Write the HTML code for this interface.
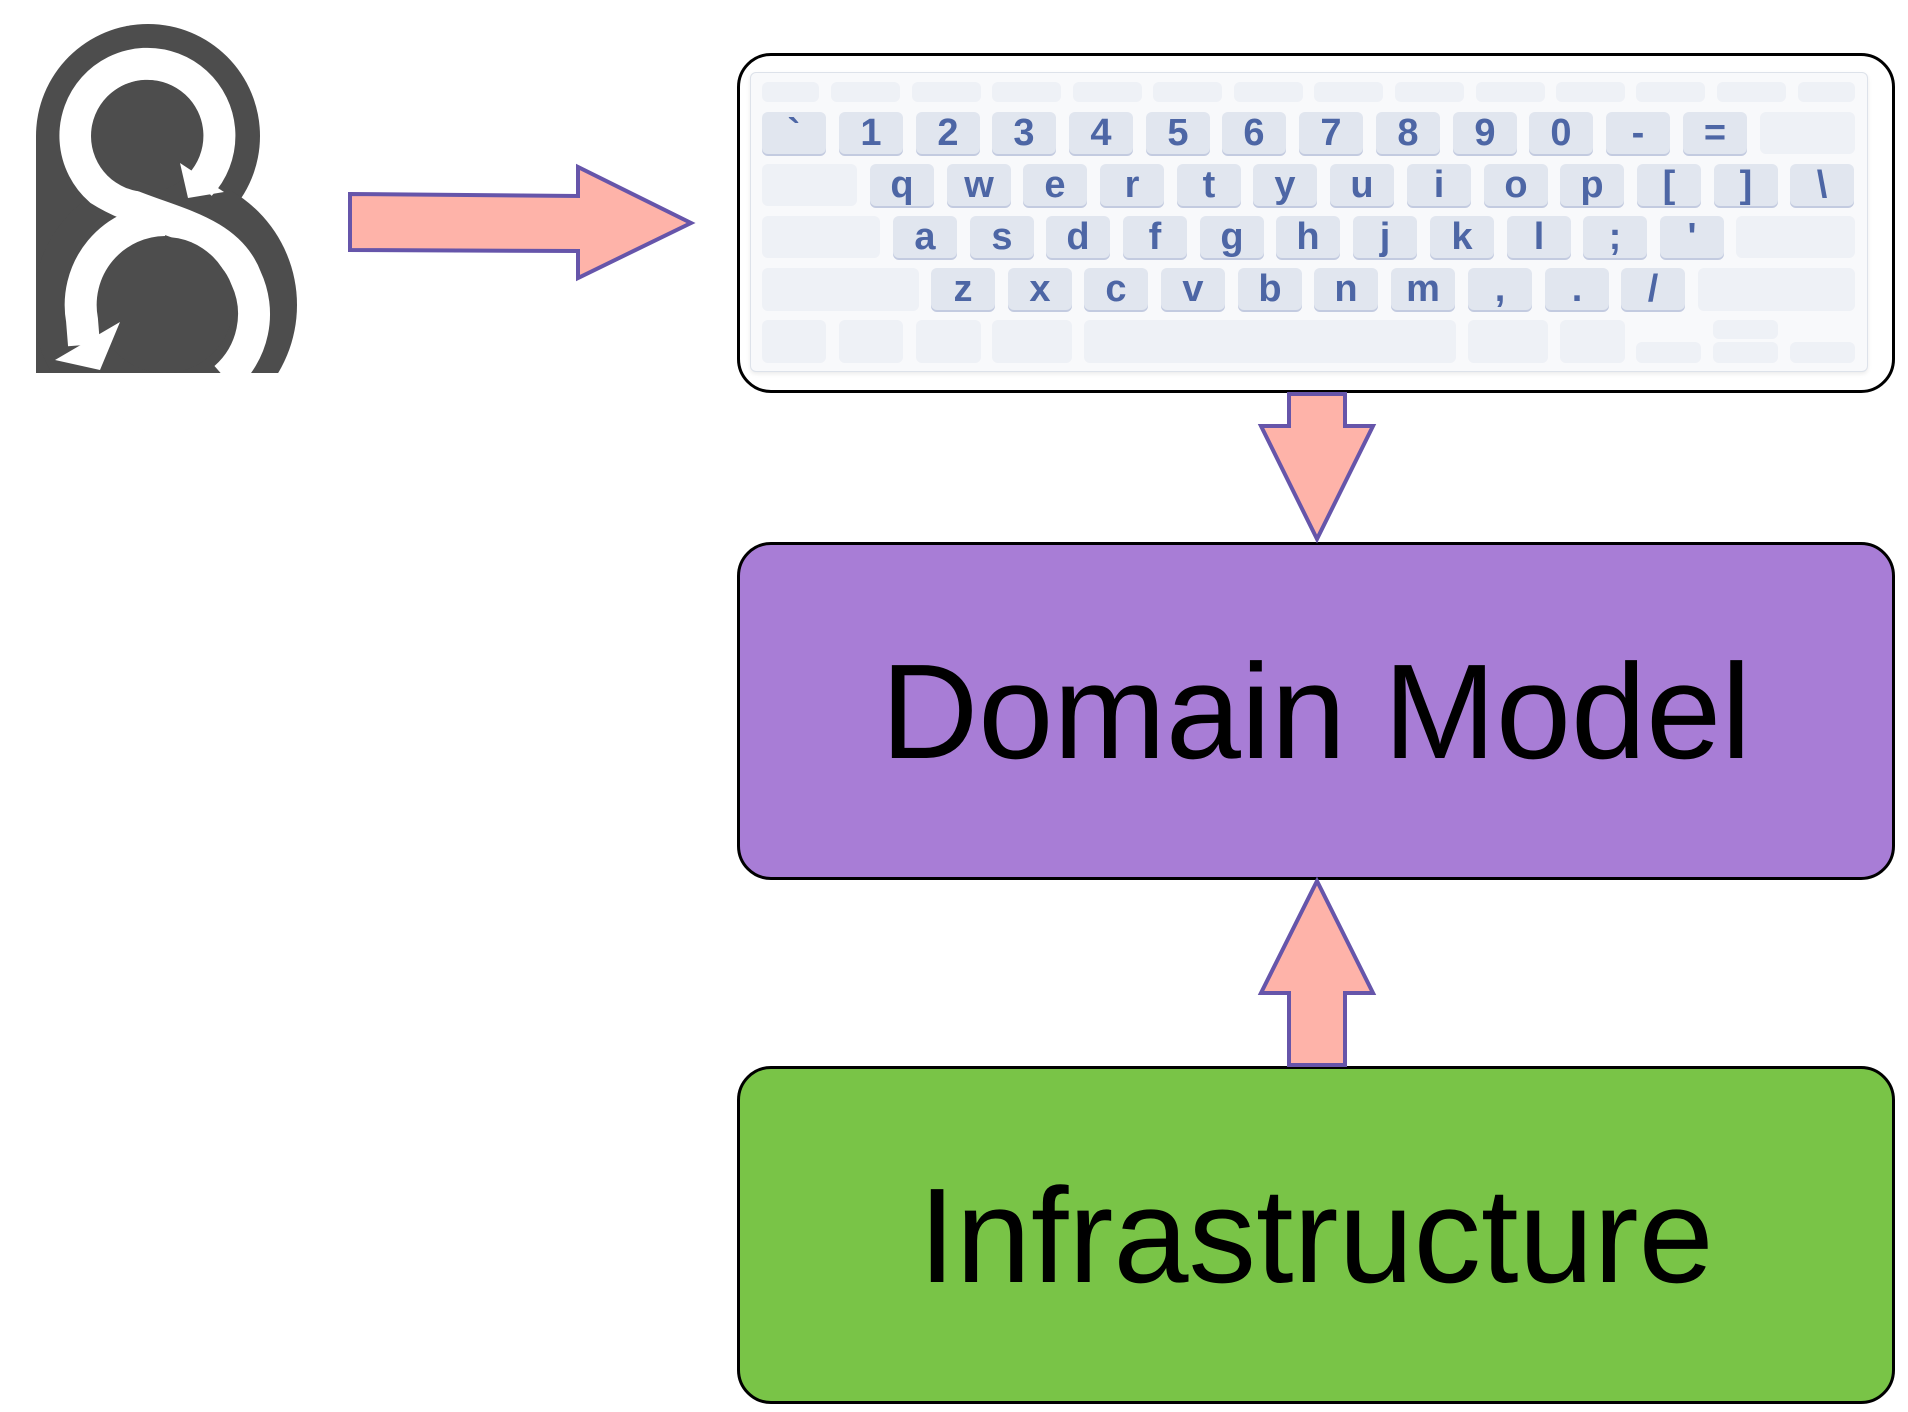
<!DOCTYPE html>
<html><head><meta charset="utf-8"><style>
html,body{margin:0;padding:0;background:#fff;}
body{width:1908px;height:1412px;position:relative;overflow:hidden;font-family:"Liberation Sans",Arial,sans-serif;}
.box{position:absolute;left:737px;width:1158px;border:3px solid #000;border-radius:34px;box-sizing:border-box;}
.kb{position:absolute;left:750px;top:72px;width:1118px;height:300px;background:#f8f9fb;border:1px solid #dde2ea;border-radius:6px;box-shadow:0 2px 4px rgba(0,0,0,0.08);box-sizing:border-box;}
.k{position:absolute;width:64px;height:42px;border-radius:6px;background:#e1e6ef;box-shadow:0 2px 0 #c3cbe0;color:#4d66a5;font-weight:bold;font-size:38px;display:flex;align-items:center;justify-content:center;line-height:1;}
.b{position:absolute;border-radius:6px;background:#eef1f6;}
.t{position:absolute;left:0;width:100%;display:flex;align-items:center;justify-content:center;font-size:135px;color:#000;}
</style></head><body>

<!-- logo -->
<svg style="position:absolute;left:0;top:0" width="330" height="400" viewBox="0 0 330 400">
<defs><clipPath id="c"><rect x="36" y="0" width="300" height="373"/></clipPath></defs>
<g clip-path="url(#c)">
<circle cx="148" cy="136" r="112" fill="#4d4d4d"/>
<rect x="36" y="136" width="130" height="240" fill="#4d4d4d"/>
<circle cx="165" cy="305" r="132" fill="#4d4d4d"/>
<path d="M 200 185 A 72 72 0 1 0 100 190 C 150 222 225 222 246 278 A 85 85 0 0 1 225 378" fill="none" stroke="#fff" stroke-width="32"/>
<path d="M 165 220 A 85 85 0 0 0 82 320 L 84 345" fill="none" stroke="#fff" stroke-width="32"/>
<circle cx="147" cy="136" r="56" fill="#4d4d4d"/>
<circle cx="165" cy="305" r="68" fill="#4d4d4d"/>
<polygon points="180,163 224,192 188,198" fill="#fff"/>
<polygon points="55,360 120,322 100,370" fill="#fff"/>
</g>
</svg>

<!-- keyboard box -->
<div class="box" style="top:53px;height:340px;background:#fff;"></div>
<div class="kb"></div>
<!-- row 0 -->
<div class="b" style="left:762px;top:82px;width:57px;height:20px"></div>
<div class="b" style="left:831px;top:82px;width:69px;height:20px"></div>
<div class="b" style="left:912px;top:82px;width:69px;height:20px"></div>
<div class="b" style="left:992px;top:82px;width:69px;height:20px"></div>
<div class="b" style="left:1073px;top:82px;width:69px;height:20px"></div>
<div class="b" style="left:1153px;top:82px;width:69px;height:20px"></div>
<div class="b" style="left:1234px;top:82px;width:69px;height:20px"></div>
<div class="b" style="left:1314px;top:82px;width:69px;height:20px"></div>
<div class="b" style="left:1395px;top:82px;width:69px;height:20px"></div>
<div class="b" style="left:1476px;top:82px;width:69px;height:20px"></div>
<div class="b" style="left:1556px;top:82px;width:69px;height:20px"></div>
<div class="b" style="left:1636px;top:82px;width:69px;height:20px"></div>
<div class="b" style="left:1717px;top:82px;width:69px;height:20px"></div>
<div class="b" style="left:1798px;top:82px;width:57px;height:20px"></div>
<!-- row 1 -->
<div class="k" style="left:762px;top:112px">`</div>
<div class="k" style="left:839px;top:112px">1</div>
<div class="k" style="left:916px;top:112px">2</div>
<div class="k" style="left:992px;top:112px">3</div>
<div class="k" style="left:1069px;top:112px">4</div>
<div class="k" style="left:1146px;top:112px">5</div>
<div class="k" style="left:1222px;top:112px">6</div>
<div class="k" style="left:1299px;top:112px">7</div>
<div class="k" style="left:1376px;top:112px">8</div>
<div class="k" style="left:1453px;top:112px">9</div>
<div class="k" style="left:1529px;top:112px">0</div>
<div class="k" style="left:1606px;top:112px">-</div>
<div class="k" style="left:1683px;top:112px">=</div>
<div class="b" style="left:1760px;top:112px;width:95px;height:42px"></div>
<!-- row 2 -->
<div class="b" style="left:762px;top:164px;width:95px;height:42px"></div>
<div class="k" style="left:870px;top:164px">q</div>
<div class="k" style="left:947px;top:164px">w</div>
<div class="k" style="left:1023px;top:164px">e</div>
<div class="k" style="left:1100px;top:164px">r</div>
<div class="k" style="left:1177px;top:164px">t</div>
<div class="k" style="left:1253px;top:164px">y</div>
<div class="k" style="left:1330px;top:164px">u</div>
<div class="k" style="left:1407px;top:164px">i</div>
<div class="k" style="left:1484px;top:164px">o</div>
<div class="k" style="left:1560px;top:164px">p</div>
<div class="k" style="left:1637px;top:164px">[</div>
<div class="k" style="left:1714px;top:164px">]</div>
<div class="k" style="left:1790px;top:164px">\</div>
<!-- row 3 -->
<div class="b" style="left:762px;top:216px;width:118px;height:42px"></div>
<div class="k" style="left:893px;top:216px">a</div>
<div class="k" style="left:970px;top:216px">s</div>
<div class="k" style="left:1046px;top:216px">d</div>
<div class="k" style="left:1123px;top:216px">f</div>
<div class="k" style="left:1200px;top:216px">g</div>
<div class="k" style="left:1276px;top:216px">h</div>
<div class="k" style="left:1353px;top:216px">j</div>
<div class="k" style="left:1430px;top:216px">k</div>
<div class="k" style="left:1507px;top:216px">l</div>
<div class="k" style="left:1583px;top:216px">;</div>
<div class="k" style="left:1660px;top:216px">'</div>
<div class="b" style="left:1736px;top:216px;width:119px;height:42px"></div>
<!-- row 4 -->
<div class="b" style="left:762px;top:268px;width:157px;height:43px"></div>
<div class="k" style="left:931px;top:268px">z</div>
<div class="k" style="left:1008px;top:268px">x</div>
<div class="k" style="left:1084px;top:268px">c</div>
<div class="k" style="left:1161px;top:268px">v</div>
<div class="k" style="left:1238px;top:268px">b</div>
<div class="k" style="left:1314px;top:268px">n</div>
<div class="k" style="left:1391px;top:268px">m</div>
<div class="k" style="left:1468px;top:268px">,</div>
<div class="k" style="left:1545px;top:268px">.</div>
<div class="k" style="left:1621px;top:268px">/</div>
<div class="b" style="left:1698px;top:268px;width:157px;height:43px"></div>
<!-- row 5 -->
<div class="b" style="left:762px;top:320px;width:64px;height:43px"></div>
<div class="b" style="left:839px;top:320px;width:64px;height:43px"></div>
<div class="b" style="left:916px;top:320px;width:65px;height:43px"></div>
<div class="b" style="left:992px;top:320px;width:80px;height:43px"></div>
<div class="b" style="left:1084px;top:320px;width:372px;height:43px"></div>
<div class="b" style="left:1468px;top:320px;width:80px;height:43px"></div>
<div class="b" style="left:1560px;top:320px;width:65px;height:43px"></div>
<div class="b" style="left:1636px;top:342px;width:65px;height:21px"></div>
<div class="b" style="left:1713px;top:320px;width:65px;height:19px"></div>
<div class="b" style="left:1713px;top:342px;width:65px;height:21px"></div>
<div class="b" style="left:1790px;top:342px;width:65px;height:21px"></div>

<!-- domain model -->
<div class="box" style="top:542px;height:338px;background:#a87dd6;"><div class="t" style="top:0;height:332px;">Domain Model</div></div>
<!-- infrastructure -->
<div class="box" style="top:1066px;height:338px;background:#79c447;"><div class="t" style="top:0;height:332px;">Infrastructure</div></div>

<!-- arrows -->
<svg style="position:absolute;left:0;top:0" width="1908" height="1412">
<g fill="#feb3a9" stroke="#6655aa" stroke-width="4" stroke-linejoin="miter">
<polygon points="350,194 578,196 578,167 691,223 578,278 578,251 350,250"/>
<polygon points="1289,394 1345,394 1345,426 1373,426 1317,539 1261,426 1289,426"/>
<polygon points="1317,881 1373,993 1345,993 1345,1065 1289,1065 1289,993 1261,993"/>
</g>
</svg>
</body></html>
